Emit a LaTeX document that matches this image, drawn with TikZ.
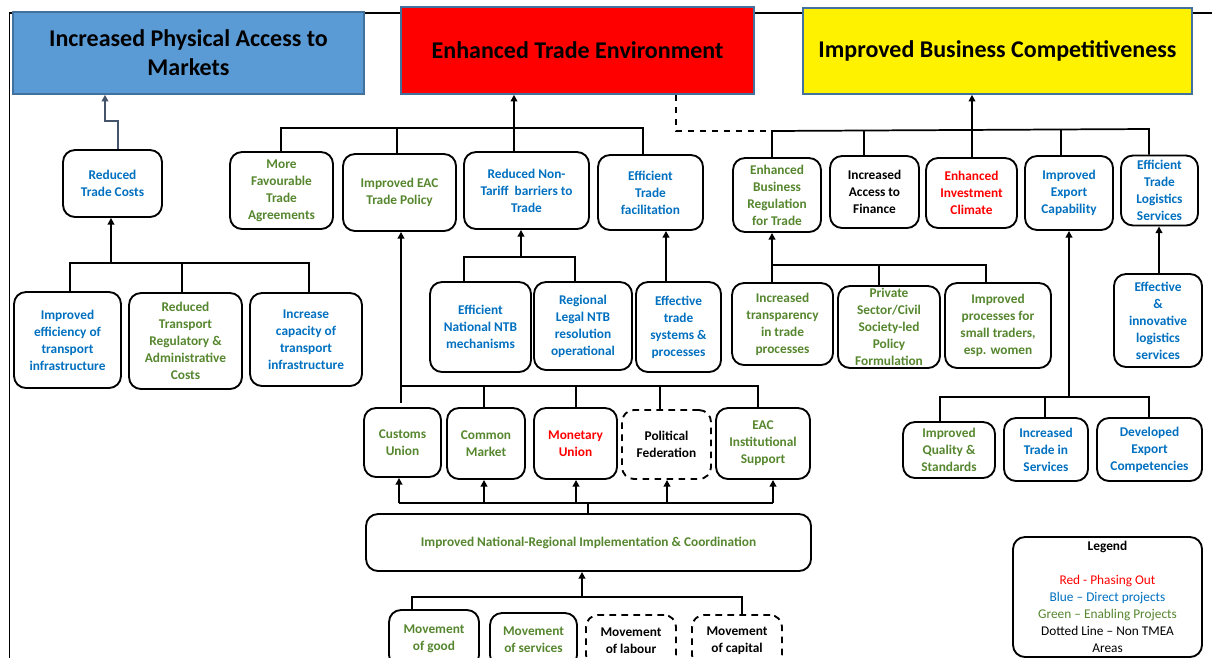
\documentclass[tikz,border=0pt]{standalone}
\usepackage{fontspec}
\setmainfont{Carlito}
\usetikzlibrary{arrows.meta,calc}
\definecolor{tmgreen}{RGB}{86,135,47}
\definecolor{tmblue}{RGB}{0,112,192}
\definecolor{tmred}{RGB}{255,0,0}
\definecolor{slate}{RGB}{68,84,106}
\definecolor{bordblue}{RGB}{65,113,156}
\definecolor{titleblue}{RGB}{91,155,213}
\begin{document}
\begin{tikzpicture}[x=0.75pt,y=-0.75pt,
  bx/.style 2 args={minimum width=#1*0.75pt, minimum height=#2*0.75pt},
  box/.style={draw=black, line width=1.4pt, rounded corners=9pt, inner sep=0pt, align=center,
    font=\fontsize{10}{12.75}\selectfont\bfseries},
  dbox/.style={box, dashed, dash pattern=on 5pt off 4pt},
  title/.style={draw=bordblue, line width=1.2pt, inner sep=0pt, align=center,
    font=\fontsize{18}{21.75}\selectfont\bfseries},
  conn/.style={draw=black, line width=1.3pt},
  arr/.style={conn, -{Triangle[length=5pt,width=5pt]}},
  slatearr/.style={draw=slate, line width=1.3pt, -{Triangle[length=5pt,width=5pt]}},
  dashconn/.style={conn, dash pattern=on 5pt off 4pt},
  frame/.style={draw=black, line width=1.2pt},
  gr/.style={text=tmgreen}, bl/.style={text=tmblue}, rd/.style={text=tmred}, bk/.style={text=black}]
\useasboundingbox (0,0) rectangle (1212,657);
\clip (0,0) rectangle (1212,657);
\fill[white] (0,0) rectangle (1212,657);
% frame
\draw[frame] (9.5,670) -- (9.5,13) -- (1215,13);

% top boxes
\node[title, fill=titleblue, bx={351}{82}] (tPhys) at (188.5,53) {Increased Physical Access to\\Markets};
\node[title, fill=tmred, bx={353}{87}] (tTrade) at (577.5,50.5) {Enhanced Trade Environment};
\node[title, fill=yellow, bx={389}{86}] (tComp) at (997.5,51) {Improved Business Competitiveness};

% left group
\node[box, bl, bx={99}{67}] (rtc) at (112.5,183.5) {Reduced\\Trade Costs};
\node[box, bl, bx={107}{96}] (ieti) at (67.5,340) {Improved\\efficiency of\\transport\\infrastructure};
\node[box, gr, bx={113}{96}] (rtrac) at (185.5,341) {Reduced\\Transport\\Regulatory \&\\Administrative\\Costs};
\node[box, bl, bx={112}{93}] (icti) at (306,339.5) {Increase\\capacity of\\transport\\infrastructure};

% middle group
\node[box, gr, bx={103}{77}] (mfta) at (281.5,190.5) {More\\Favourable\\Trade\\Agreements};
\node[box, gr, bx={113}{77}] (ieac) at (399.5,192.5) {Improved EAC\\Trade Policy};
\node[box, bl, bx={125}{77}] (rntb) at (526.5,190.5) {Reduced Non-\\Tariff\ \ barriers to\\Trade};
\node[box, bl, bx={105}{75}] (etf) at (650.5,192.5) {Efficient\\Trade\\facilitation};
\node[box, bl, bx={101}{90}] (enntb) at (480.5,327) {Efficient\\National NTB\\mechanisms};
\node[box, bl, bx={98}{88}] (rlntb) at (583,326) {Regional\\Legal NTB\\resolution\\operational};
\node[box, bl, bx={85}{90}] (etsp) at (678.5,327) {Effective\\trade\\systems \&\\processes};

\node[box, gr, bx={77}{69}] (cu) at (402.5,442.5) {Customs\\Union};
\node[box, gr, bx={78}{71}] (cm) at (486,443.5) {Common\\Market};
\node[box, rd, bx={83}{71}] (mu) at (575.5,443.5) {Monetary\\Union};
\node[dbox, bk, bx={89}{69}] (pf) at (666.5,444.5) {Political\\Federation};
\node[box, gr, bx={94}{71}] (eacis) at (763,443.5) {EAC\\Institutional\\Support};
\node[box, gr, bx={445}{57}] (inric) at (588.5,542.5) {Improved National-Regional Implementation \& Coordination};

\node[box, gr, bx={90}{57}] (mog) at (434,638.5) {Movement\\of good};
\node[box, gr, bx={87}{54}] (mos) at (533.5,640) {Movement\\of services};
\node[dbox, bk, bx={90}{52}] (mol) at (631,641) {Movement\\of labour};
\node[dbox, bk, bx={90}{52}] (moc) at (737,641) {Movement\\of capital};

% right group
\node[box, gr, bx={88}{74}] (ebrt) at (777,195) {Enhanced\\Business\\Regulation\\for Trade};
\node[box, bk, bx={89}{72}] (iaf) at (874.5,192) {Increased\\Access to\\Finance};
\node[box, rd, bx={91}{70}] (eic) at (971.5,193) {Enhanced\\Investment\\Climate};
\node[box, bl, bx={88}{74}] (iec) at (1069,193) {Improved\\Export\\Capability};
\node[box, bl, bx={77}{70}] (etls) at (1159.5,190.5) {Efficient\\Trade\\Logistics\\Services};
\node[box, gr, bx={101}{82}] (itp) at (782.5,324) {Increased\\transparency\\in trade\\processes};
\node[box, gr, bx={102}{82}] (pscs) at (889,327) {Private\\Sector/Civil\\Society-led\\Policy\\Formulation};
\node[box, gr, bx={106}{85}] (ipst) at (998,325.5) {Improved\\processes for\\small traders,\\esp. women};
\node[box, bl, bx={88}{93}] (eils) at (1158,320.5) {Effective\\\&\\innovative\\logistics\\services};
\node[box, gr, bx={92}{56}] (iqs) at (949,450) {Improved\\Quality \&\\Standards};
\node[box, bl, bx={84}{63}] (its) at (1046,449.5) {Increased\\Trade in\\Services};
\node[box, bl, bx={105}{63}] (dec) at (1149.5,449.5) {Developed\\Export\\Competencies};

% legend
\node[box, bx={189}{120}, font=\fontsize{10}{12.75}\selectfont] (leg) at (1107.5,597) {\textbf{Legend}\\[12.75pt]
  {\color{tmred}Red - Phasing Out}\\
  {\color{tmblue}Blue – Direct projects}\\
  {\color{tmgreen}Green – Enabling Projects}\\
  Dotted Line – Non TMEA\\
  Areas};

% ---------- connectors ----------
% left
\coordinate (S1) at (118,121); \coordinate (S2) at (105,121);
\draw[slatearr] (rtc.north -| S1) -- (S1) -- (S2) -- (tPhys.south -| S2);
\coordinate (L0) at (111,263); \coordinate (L1) at (70,263);
\coordinate (L2) at (182,263); \coordinate (L3) at (309,263);
\draw[conn] (ieti.north -| L1) -- (L1) -- (L3) -- (icti.north -| L3);
\draw[conn] (L2) -- (rtrac.north -| L2);
\draw[arr] (L0) -- (rtc.south -| L0);

% middle upper
\coordinate (M1) at (281,128); \coordinate (M2) at (397,128);
\coordinate (M3) at (514,128); \coordinate (M4) at (643,128);
\draw[conn] (mfta.north -| M1) -- (M1) -- (M4) -- (etf.north -| M4);
\draw[conn] (ieac.north -| M2) -- (M2);
\draw[arr] (rntb.north -| M3) -- (tTrade.south -| M3);

% dashed link
\coordinate (D1) at (676,131); \coordinate (R1) at (772,131);
\draw[dashconn] (tTrade.south -| D1) -- (D1) -- (R1);

% right upper
\coordinate (R2) at (864,130); \coordinate (R3) at (972,130);
\coordinate (R4) at (1061,130); \coordinate (R5) at (1149,129);
\draw[conn] (ebrt.north -| R1) -- (R1) -- (R5) -- (etls.north -| R5);
\draw[conn] (iaf.north -| R2) -- (R2);
\draw[conn] (iec.north -| R4) -- (R4);
\draw[arr] (eic.north -| R3) -- (tComp.south -| R3);

% NTB group
\coordinate (N0) at (521,257); \coordinate (N1) at (464,257); \coordinate (N2) at (575,257);
\draw[conn] (enntb.north -| N1) -- (N1) -- (N2) -- (rlntb.north -| N2);
\draw[arr] (N0) -- (rntb.south -| N0);
\coordinate (E1) at (666,280);
\draw[arr] (etsp.north -| E1) -- (etf.south -| E1);

% EAC pillars
\coordinate (P0) at (401,386); \coordinate (P1) at (484,386); \coordinate (P2) at (576,386);
\coordinate (P3) at (660,386); \coordinate (P4) at (758,386);
\draw[arr] ($(cu.north -| P0)+(0,-4)$) -- (ieac.south -| P0);
\draw[conn] (P0) -- (P4) -- (eacis.north -| P4);
\draw[conn] (P1) -- (cm.north -| P1);
\draw[conn] (P2) -- (mu.north -| P2);
\draw[conn] (P3) -- (pf.north -| P3);

\coordinate (B0) at (399,503); \coordinate (B1) at (484,503); \coordinate (B2) at (576,503);
\coordinate (B3) at (667,503); \coordinate (B4) at (773,503); \coordinate (BC) at (588,503);
\draw[conn] (B0) -- (B4);
\draw[conn] (inric.north -| BC) -- (BC);
\draw[arr] (B0) -- (cu.south -| B0);
\draw[arr] (B1) -- (cm.south -| B1);
\draw[arr] (B2) -- (mu.south -| B2);
\draw[arr] (B3) -- (pf.south -| B3);
\draw[arr] (B4) -- (eacis.south -| B4);

\coordinate (V0) at (582,597); \coordinate (V1) at (412,597); \coordinate (V2) at (742,597);
\draw[conn] (mog.north -| V1) -- (V1) -- (V2) -- (moc.north -| V2);
\draw[arr] (V0) -- (inric.south -| V0);

% right lower
\coordinate (T1) at (772,265); \coordinate (T2) at (879,265); \coordinate (T3) at (986,265);
\draw[conn] (itp.north -| T1) -- (T1) -- (T3) -- (ipst.north -| T3);
\draw[conn] (T2) -- (pscs.north -| T2);
\draw[arr] (T1) -- (ebrt.south -| T1);

\coordinate (X0) at (1069,397); \coordinate (X1) at (940,397);
\coordinate (X2) at (1045,397); \coordinate (X3) at (1149,397);
\draw[conn] (iqs.north -| X1) -- (X1) -- (X3) -- (dec.north -| X3);
\draw[conn] (X2) -- (its.north -| X2);
\draw[arr] (X0) -- (iec.south -| X0);

\coordinate (G0) at (1159,300);
\draw[arr] (eils.north -| G0) -- (etls.south -| G0);
\end{tikzpicture}
\end{document}
